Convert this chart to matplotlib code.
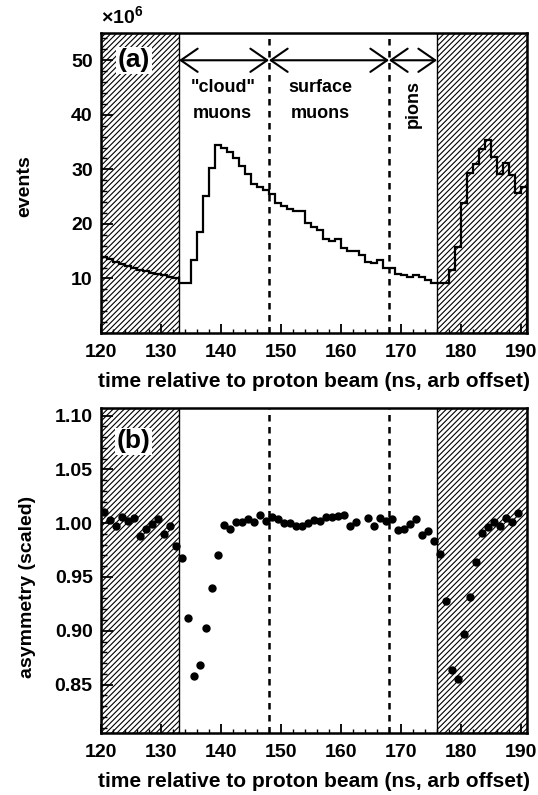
import numpy as np
import matplotlib
matplotlib.use("Agg")
import matplotlib.pyplot as plt
from matplotlib.ticker import MultipleLocator, FormatStrFormatter

# ---------------- data ----------------
bin_edges_start = 120
bin_edges_stop = 191
events_millions = [
    13.9, 13.5, 13.0, 12.6, 12.3, 11.9, 11.6, 11.3, 11.0, 10.8,   # 120-129
    10.6, 10.3, 10.0, 9.2, 9.2, 13.3, 18.5, 25.2, 30.3, 34.5,     # 130-139
    34.0, 33.2, 32.0, 30.6, 29.1, 27.3, 26.8, 26.3, 25.5, 23.9,   # 140-149
    23.3, 22.7, 22.4, 22.4, 20.1, 19.5, 18.9, 17.3, 16.8, 17.2,   # 150-159
    15.6, 15.0, 15.0, 14.3, 13.1, 12.9, 13.4, 11.9, 12.0, 10.9,   # 160-169
    10.7, 10.2, 10.6, 10.2, 9.7, 9.2, 9.1, 9.1, 11.5, 15.8,       # 170-179
    23.8, 29.3, 31.0, 33.8, 35.3, 32.3, 29.2, 31.1, 28.9, 25.6,   # 180-189
    26.8,                                                          # 190
]
asym_time = [120.5, 121.5, 122.5, 123.5, 124.5, 125.5, 126.5, 127.5, 128.5, 129.5,
             130.5, 131.5, 132.5, 133.5, 134.5, 135.5, 136.5, 137.5, 138.5, 139.5,
             140.5, 141.5, 142.5, 143.5, 144.5, 145.5, 146.5, 147.5, 148.5, 149.5,
             150.5, 151.5, 152.5, 153.5, 154.5, 155.5, 156.5, 157.5, 158.5, 159.5,
             160.5, 161.5, 162.5, 164.5, 165.5, 166.5, 167.5, 168.5, 169.5,
             170.5, 171.5, 172.5, 173.5, 174.5, 175.5, 176.5, 177.5, 178.5, 179.5,
             180.5, 181.5, 182.5, 183.5, 184.5, 185.5, 186.5, 187.5, 188.5, 189.5]
asym_value = [1.010, 1.003, 0.997, 1.006, 1.002, 1.005, 0.988, 0.995, 0.999, 1.004,
              0.990, 0.997, 0.979, 0.968, 0.912, 0.858, 0.868, 0.903, 0.940, 0.970,
              0.998, 0.995, 1.001, 1.001, 1.004, 1.001, 1.008, 1.002, 1.006, 1.004,
              1.000, 1.000, 0.997, 0.997, 1.000, 1.003, 1.002, 1.006, 1.006, 1.007,
              1.008, 0.997, 1.001, 1.005, 0.997, 1.005, 1.002, 1.004, 0.994,
              0.995, 0.999, 1.004, 0.989, 0.993, 0.983, 0.971, 0.928, 0.864, 0.855,
              0.897, 0.931, 0.964, 0.991, 0.996, 1.001, 0.997, 1.005, 1.001, 1.009]
excluded_regions = [(120, 133), (176, 191)]
region_bounds = [148, 168]
arrow_segments = [(133, 148), (148, 168), (168, 176)]
x_ticks = [120, 130, 140, 150, 160, 170, 180, 190]

# ---------------- style ----------------
plt.rcParams['font.family'] = ['Liberation Sans', 'DejaVu Sans']
plt.rcParams['font.weight'] = 'bold'
plt.rcParams['mathtext.fontset'] = 'custom'
plt.rcParams['mathtext.rm'] = 'Liberation Sans:bold'
plt.rcParams['mathtext.default'] = 'rm'
plt.rcParams['hatch.linewidth'] = 0.8

FS = 14
fig = plt.figure(figsize=(5.38, 7.95), dpi=100)
W, H = 538.0, 795.0
ax_a = fig.add_axes([101 / W, 1 - 333 / H, 426 / W, 300 / H])
ax_b = fig.add_axes([101 / W, 1 - 733 / H, 426 / W, 325 / H])


def style_axes(ax):
    for s in ax.spines.values():
        s.set_linewidth(1.8)
    ax.set_xlim(120, 191)
    ax.set_xticks(x_ticks)
    ax.xaxis.set_minor_locator(MultipleLocator(2))
    ax.tick_params(axis='x', which='major', direction='in', length=6.5, width=1.3,
                   labelsize=FS, pad=8, top=False)
    ax.tick_params(axis='x', which='minor', direction='in', length=3.2, width=1.0, top=False)
    ax.tick_params(axis='y', which='major', direction='in', length=8.5, width=1.3,
                   labelsize=FS, pad=6, right=False)
    ax.tick_params(axis='y', which='minor', direction='in', length=4.3, width=1.0, right=False)
    for lab in ax.get_xticklabels() + ax.get_yticklabels():
        lab.set_fontweight('bold')
    for lo, hi in excluded_regions:
        ax.axvspan(lo, hi, facecolor='none', edgecolor='black', hatch='//////', lw=1.0, zorder=1)
    for xb in region_bounds:
        ax.axvline(xb, color='black', lw=1.8, ls=(0, (2.6, 2.2)), zorder=2)
    ax.set_xlabel('time relative to proton beam (ns, arb offset)', fontsize=15,
                  fontweight='bold', labelpad=8)


# ---------------- panel (a) ----------------
edges = np.arange(bin_edges_start, bin_edges_stop + 1)
ax_a.stairs(events_millions, edges, color='black', lw=1.6, zorder=3)
ax_a.set_ylim(0, 55)
ax_a.set_yticks([10, 20, 30, 40, 50])
ax_a.yaxis.set_minor_locator(MultipleLocator(2))
style_axes(ax_a)
ax_a.set_ylabel('events', fontsize=FS, fontweight='bold')
ax_a.yaxis.set_label_coords(-0.158, 0.49)
ax_a.text(0.0, 1.02, r'$\times10^{6}$', transform=ax_a.transAxes, fontsize=FS,
          ha='left', va='bottom')
ax_a.text(125.5, 50, '(a)', fontsize=19, fontweight='bold', ha='center', va='center',
          bbox=dict(facecolor='white', edgecolor='none', pad=1.0), zorder=4)
for lo, hi in arrow_segments:
    ax_a.annotate('', xy=(lo, 50), xytext=(hi, 50),
                  arrowprops=dict(arrowstyle='<->,head_length=0.55,head_width=0.38',
                                  lw=1.5, color='black', shrinkA=0, shrinkB=0,
                                  mutation_scale=22), zorder=4)
ax_a.text(140.3, 42.6, '"cloud"\nmuons', fontsize=13, fontweight='bold',
          ha='center', va='center', linespacing=1.7)
ax_a.text(156.5, 42.6, 'surface\nmuons', fontsize=13, fontweight='bold',
          ha='center', va='center', linespacing=1.7)
ax_a.text(172.1, 42.0, 'pions', fontsize=13, fontweight='bold', rotation=90,
          ha='center', va='center')

# ---------------- panel (b) ----------------
ax_b.plot(asym_time, asym_value, 'o', color='black', ms=5.0, zorder=3)
ax_b.set_ylim(0.805, 1.107)
ax_b.set_yticks([0.85, 0.90, 0.95, 1.00, 1.05, 1.10])
ax_b.yaxis.set_major_formatter(FormatStrFormatter('%.2f'))
ax_b.yaxis.set_minor_locator(MultipleLocator(0.01))
style_axes(ax_b)
ax_b.set_ylabel('asymmetry (scaled)', fontsize=FS, fontweight='bold')
ax_b.yaxis.set_label_coords(-0.152, 0.45)
ax_b.text(125.4, 1.076, '(b)', fontsize=19, fontweight='bold', ha='center', va='center',
          bbox=dict(facecolor='white', edgecolor='none', pad=1.0), zorder=4)

fig.savefig('out.png', dpi=100)
